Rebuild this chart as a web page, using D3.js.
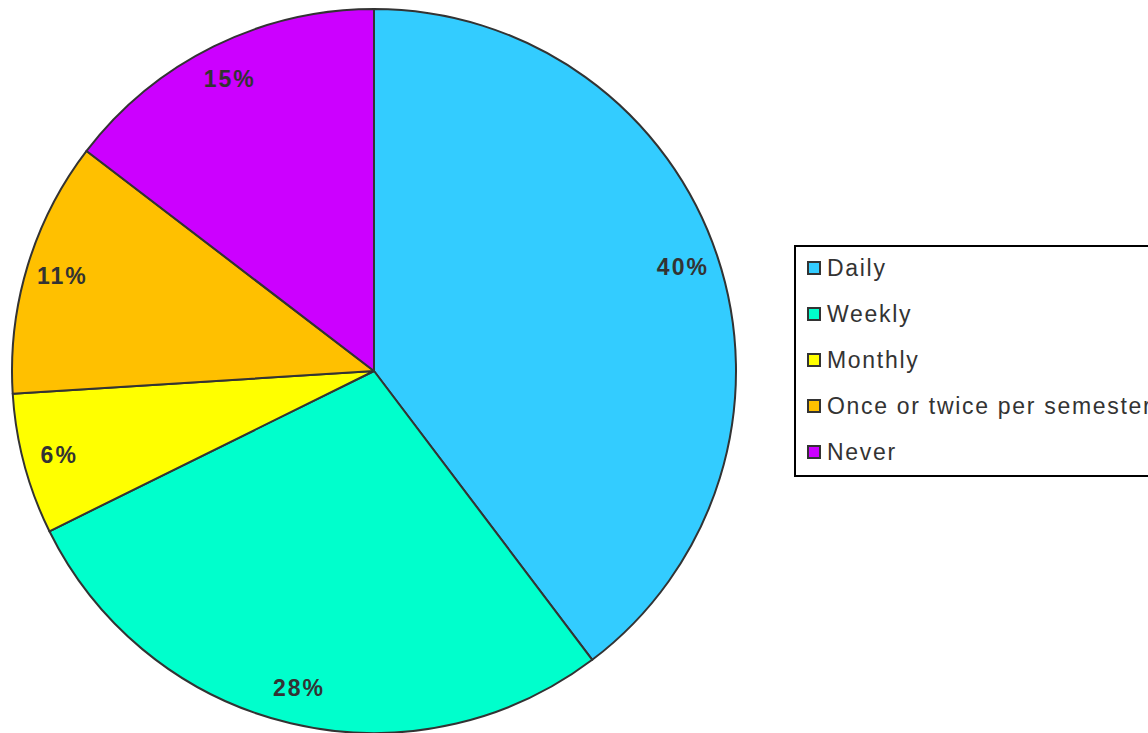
<!DOCTYPE html>
<html>
<head>
<meta charset="utf-8">
<script src="https://cdn.jsdelivr.net/npm/d3@7"></script>
<style>
  body { margin: 0; background: #fff; }
  svg { display: block; font-family: "Liberation Sans", Arial, sans-serif; }
</style>
</head>
<body>
<svg width="1148" height="733"></svg>
<script>
// chart values
var categories = ['Daily', 'Weekly', 'Monthly', 'Once or twice per semester', 'Never'];
var shares = [39.7, 28.0, 6.3, 11.4, 14.6];
var pctLabels = ['40%', '28%', '6%', '11%', '15%'];
var colors = ['#33ccff', '#00ffcc', '#ffff00', '#ffc000', '#cc00ff'];

var width = 1148, height = 733;
var cx = 374, cy = 371, radius = 362;

var svg = d3.select('svg');

var data = categories.map(function(c, i){
    return {name: c, value: shares[i], label: pctLabels[i], color: colors[i]};
});

var pie = d3.pie()
    .sort(null)
    .value(d => d.value);

var arc = d3.arc()
    .innerRadius(0)
    .outerRadius(radius);

var labelArc = d3.arc()
    .innerRadius(radius * 0.9)
    .outerRadius(radius * 0.9);

var g = svg.append('g')
    .attr('transform', 'translate(' + cx + ',' + cy + ')');

var arcs = pie(data);

g.selectAll('.slice')
    .data(arcs)
    .join('path')
    .attr('class', 'slice')
    .attr('d', arc)
    .attr('fill', d => d.data.color)
    .attr('stroke', '#333333')
    .attr('stroke-width', 2)
    .attr('stroke-linejoin', 'round');

g.selectAll('.pct')
    .data(arcs)
    .join('text')
    .attr('class', 'pct')
    .attr('x', d => labelArc.centroid(d)[0])
    .attr('y', d => labelArc.centroid(d)[1])
    .attr('text-anchor', 'middle')
    .attr('dominant-baseline', 'central')
    .attr('font-size', '23px')
    .attr('font-weight', 'bold')
    .attr('letter-spacing', '2px')
    .attr('fill', '#333333')
    .text(d => d.data.label);

// legend
var legend = svg.append('g')
    .attr('transform', 'translate(795,246)');

legend.append('rect')
    .attr('x', 0)
    .attr('y', 0)
    .attr('width', 380)
    .attr('height', 230)
    .attr('fill', '#fff')
    .attr('stroke', '#000')
    .attr('stroke-width', 2);

var rowY = d3.scalePoint()
    .domain(categories)
    .range([22, 206]);

var items = legend.selectAll('.item')
    .data(data)
    .join('g')
    .attr('class', 'item')
    .attr('transform', d => 'translate(0,' + rowY(d.name) + ')');

items.append('rect')
    .attr('x', 13)
    .attr('y', -6)
    .attr('width', 12)
    .attr('height', 12)
    .attr('fill', d => d.color)
    .attr('stroke', '#333333')
    .attr('stroke-width', 2);

items.append('text')
    .attr('x', 32)
    .attr('y', 0)
    .attr('dominant-baseline', 'central')
    .attr('font-size', '23px')
    .attr('letter-spacing', '1.7px')
    .attr('fill', '#333333')
    .text(d => d.name);
</script>
</body>
</html>
